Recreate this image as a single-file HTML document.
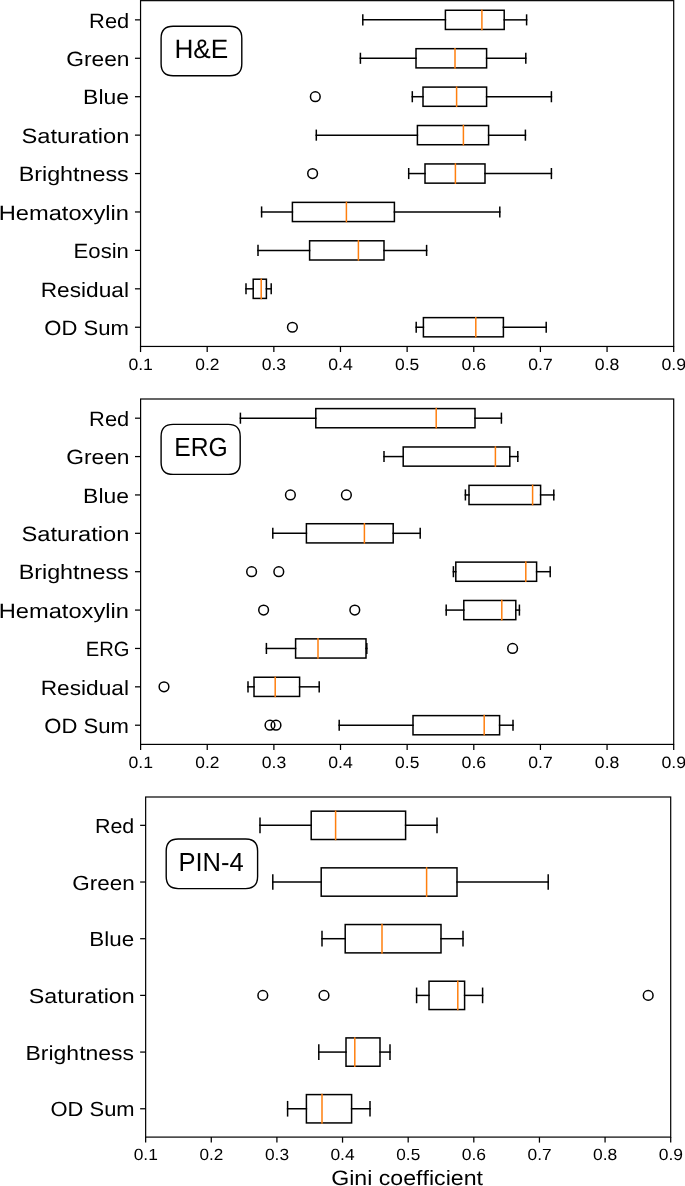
<!DOCTYPE html>
<html><head><meta charset="utf-8"><style>
html,body{margin:0;padding:0;background:#fff;}
body{width:685px;height:1186px;overflow:hidden;}
svg{display:block;will-change:transform;}
text{font-family:"Liberation Sans",sans-serif;fill:#000;font-kerning:none;text-rendering:geometricPrecision;}
</style></head><body>
<svg width="685" height="1186" viewBox="0 0 685 1186">
<rect width="685" height="1186" fill="#fff"/>
<g fill="none" stroke="#000" stroke-width="1.5" stroke-linecap="square"><line x1="362.80" y1="19.86" x2="445.40" y2="19.86"/><line x1="504.20" y1="19.86" x2="526.60" y2="19.86"/><line x1="362.80" y1="15.06" x2="362.80" y2="24.66"/><line x1="526.60" y1="15.06" x2="526.60" y2="24.66"/><rect x="445.40" y="10.26" width="58.80" height="19.21"/><line x1="481.90" y1="10.26" x2="481.90" y2="29.47" stroke="#ff7f0e"/><line x1="360.40" y1="58.28" x2="416.00" y2="58.28"/><line x1="486.60" y1="58.28" x2="525.80" y2="58.28"/><line x1="360.40" y1="53.48" x2="360.40" y2="63.09"/><line x1="525.80" y1="53.48" x2="525.80" y2="63.09"/><rect x="416.00" y="48.68" width="70.60" height="19.21"/><line x1="455.00" y1="48.68" x2="455.00" y2="67.89" stroke="#ff7f0e"/><line x1="412.30" y1="96.71" x2="423.00" y2="96.71"/><line x1="486.60" y1="96.71" x2="551.40" y2="96.71"/><line x1="412.30" y1="91.90" x2="412.30" y2="101.51"/><line x1="551.40" y1="91.90" x2="551.40" y2="101.51"/><rect x="423.00" y="87.10" width="63.60" height="19.21"/><line x1="456.60" y1="87.10" x2="456.60" y2="106.31" stroke="#ff7f0e"/><circle cx="315.30" cy="96.71" r="4.85" stroke-width="1.5" stroke-linecap="butt"/><line x1="316.30" y1="135.13" x2="417.40" y2="135.13"/><line x1="488.60" y1="135.13" x2="525.40" y2="135.13"/><line x1="316.30" y1="130.33" x2="316.30" y2="139.93"/><line x1="525.40" y1="130.33" x2="525.40" y2="139.93"/><rect x="417.40" y="125.52" width="71.20" height="19.21"/><line x1="463.40" y1="125.52" x2="463.40" y2="144.73" stroke="#ff7f0e"/><line x1="408.70" y1="173.55" x2="425.00" y2="173.55"/><line x1="485.00" y1="173.55" x2="551.40" y2="173.55"/><line x1="408.70" y1="168.75" x2="408.70" y2="178.35"/><line x1="551.40" y1="168.75" x2="551.40" y2="178.35"/><rect x="425.00" y="163.94" width="60.00" height="19.21"/><line x1="455.40" y1="163.94" x2="455.40" y2="183.16" stroke="#ff7f0e"/><circle cx="312.60" cy="173.55" r="4.85" stroke-width="1.5" stroke-linecap="butt"/><line x1="261.60" y1="211.97" x2="292.40" y2="211.97"/><line x1="394.40" y1="211.97" x2="499.80" y2="211.97"/><line x1="261.60" y1="207.17" x2="261.60" y2="216.78"/><line x1="499.80" y1="207.17" x2="499.80" y2="216.78"/><rect x="292.40" y="202.37" width="102.00" height="19.21"/><line x1="346.40" y1="202.37" x2="346.40" y2="221.58" stroke="#ff7f0e"/><line x1="258.00" y1="250.39" x2="309.60" y2="250.39"/><line x1="384.00" y1="250.39" x2="426.60" y2="250.39"/><line x1="258.00" y1="245.59" x2="258.00" y2="255.20"/><line x1="426.60" y1="245.59" x2="426.60" y2="255.20"/><rect x="309.60" y="240.79" width="74.40" height="19.21"/><line x1="358.40" y1="240.79" x2="358.40" y2="260.00" stroke="#ff7f0e"/><line x1="246.00" y1="288.82" x2="253.20" y2="288.82"/><line x1="266.40" y1="288.82" x2="271.20" y2="288.82"/><line x1="246.00" y1="284.01" x2="246.00" y2="293.62"/><line x1="271.20" y1="284.01" x2="271.20" y2="293.62"/><rect x="253.20" y="279.21" width="13.20" height="19.21"/><line x1="261.20" y1="279.21" x2="261.20" y2="298.42" stroke="#ff7f0e"/><line x1="416.20" y1="327.24" x2="423.40" y2="327.24"/><line x1="503.40" y1="327.24" x2="546.20" y2="327.24"/><line x1="416.20" y1="322.44" x2="416.20" y2="332.04"/><line x1="546.20" y1="322.44" x2="546.20" y2="332.04"/><rect x="423.40" y="317.63" width="80.00" height="19.21"/><line x1="475.80" y1="317.63" x2="475.80" y2="336.84" stroke="#ff7f0e"/><circle cx="292.40" cy="327.24" r="4.85" stroke-width="1.5" stroke-linecap="butt"/></g><path d="M173.10,26.20 L229.80,26.20 Q241.80,26.20 241.80,38.20 L241.80,63.80 Q241.80,75.80 229.80,75.80 L173.10,75.80 Q161.10,75.80 161.10,63.80 L161.10,38.20 Q161.10,26.20 173.10,26.20 Z" fill="#fff" stroke="#000" stroke-width="1.4"/><text transform="translate(174.45,58.30) scale(0.9851,1)" font-size="26.60">H&amp;E</text><g stroke="#000" stroke-width="1.25"><line x1="140.55" y1="346.45" x2="140.55" y2="352.05"/><line x1="207.19" y1="346.45" x2="207.19" y2="352.05"/><line x1="273.84" y1="346.45" x2="273.84" y2="352.05"/><line x1="340.48" y1="346.45" x2="340.48" y2="352.05"/><line x1="407.13" y1="346.45" x2="407.13" y2="352.05"/><line x1="473.77" y1="346.45" x2="473.77" y2="352.05"/><line x1="540.41" y1="346.45" x2="540.41" y2="352.05"/><line x1="607.06" y1="346.45" x2="607.06" y2="352.05"/><line x1="673.70" y1="346.45" x2="673.70" y2="352.05"/><line x1="134.95" y1="19.86" x2="140.55" y2="19.86"/><line x1="134.95" y1="58.28" x2="140.55" y2="58.28"/><line x1="134.95" y1="96.71" x2="140.55" y2="96.71"/><line x1="134.95" y1="135.13" x2="140.55" y2="135.13"/><line x1="134.95" y1="173.55" x2="140.55" y2="173.55"/><line x1="134.95" y1="211.97" x2="140.55" y2="211.97"/><line x1="134.95" y1="250.39" x2="140.55" y2="250.39"/><line x1="134.95" y1="288.82" x2="140.55" y2="288.82"/><line x1="134.95" y1="327.24" x2="140.55" y2="327.24"/></g><rect x="140.55" y="0.65" width="533.15" height="345.80" fill="none" stroke="#000" stroke-width="1.2"/><text transform="translate(89.11,27.56) scale(1.0591,1)" font-size="20.64">Red</text><text transform="translate(66.26,65.98) scale(1.1021,1)" font-size="20.64">Green</text><text transform="translate(83.12,104.41) scale(1.1111,1)" font-size="20.64">Blue</text><text transform="translate(21.52,142.83) scale(1.1480,1)" font-size="20.64">Saturation</text><text transform="translate(18.69,181.25) scale(1.1296,1)" font-size="20.64">Brightness</text><text transform="translate(-1.34,219.67) scale(1.1481,1)" font-size="20.64">Hematoxylin</text><text transform="translate(73.58,258.09) scale(1.0721,1)" font-size="20.64">Eosin</text><text transform="translate(40.74,296.52) scale(1.0992,1)" font-size="20.64">Residual</text><text transform="translate(44.35,334.94) scale(1.0691,1)" font-size="20.64">OD Sum</text><text transform="translate(128.41,369.65) scale(1.0753,1)" font-size="16.42">0.1</text><text transform="translate(195.23,369.65) scale(1.0606,1)" font-size="16.42">0.2</text><text transform="translate(261.72,369.65) scale(1.0699,1)" font-size="16.42">0.3</text><text transform="translate(328.17,369.65) scale(1.0751,1)" font-size="16.42">0.4</text><text transform="translate(395.06,369.65) scale(1.0632,1)" font-size="16.42">0.5</text><text transform="translate(461.51,369.65) scale(1.0820,1)" font-size="16.42">0.6</text><text transform="translate(528.33,369.65) scale(1.0714,1)" font-size="16.42">0.7</text><text transform="translate(594.84,369.65) scale(1.0779,1)" font-size="16.42">0.8</text><text transform="translate(661.50,369.65) scale(1.0797,1)" font-size="16.42">0.9</text><g fill="none" stroke="#000" stroke-width="1.5" stroke-linecap="square"><line x1="240.40" y1="418.19" x2="315.80" y2="418.19"/><line x1="475.00" y1="418.19" x2="501.40" y2="418.19"/><line x1="240.40" y1="413.39" x2="240.40" y2="422.99"/><line x1="501.40" y1="413.39" x2="501.40" y2="422.99"/><rect x="315.80" y="408.59" width="159.20" height="19.19"/><line x1="436.20" y1="408.59" x2="436.20" y2="427.78" stroke="#ff7f0e"/><line x1="384.00" y1="456.57" x2="403.20" y2="456.57"/><line x1="509.80" y1="456.57" x2="517.80" y2="456.57"/><line x1="384.00" y1="451.77" x2="384.00" y2="461.36"/><line x1="517.80" y1="451.77" x2="517.80" y2="461.36"/><rect x="403.20" y="446.97" width="106.60" height="19.19"/><line x1="495.40" y1="446.97" x2="495.40" y2="466.16" stroke="#ff7f0e"/><line x1="465.40" y1="494.94" x2="469.00" y2="494.94"/><line x1="540.60" y1="494.94" x2="553.80" y2="494.94"/><line x1="465.40" y1="490.15" x2="465.40" y2="499.74"/><line x1="553.80" y1="490.15" x2="553.80" y2="499.74"/><rect x="469.00" y="485.35" width="71.60" height="19.19"/><line x1="532.60" y1="485.35" x2="532.60" y2="504.54" stroke="#ff7f0e"/><circle cx="290.40" cy="494.94" r="4.85" stroke-width="1.5" stroke-linecap="butt"/><circle cx="346.40" cy="494.94" r="4.85" stroke-width="1.5" stroke-linecap="butt"/><line x1="272.80" y1="533.32" x2="306.40" y2="533.32"/><line x1="393.20" y1="533.32" x2="420.20" y2="533.32"/><line x1="272.80" y1="528.52" x2="272.80" y2="538.12"/><line x1="420.20" y1="528.52" x2="420.20" y2="538.12"/><rect x="306.40" y="523.73" width="86.80" height="19.19"/><line x1="364.40" y1="523.73" x2="364.40" y2="542.92" stroke="#ff7f0e"/><line x1="453.40" y1="571.70" x2="455.80" y2="571.70"/><line x1="536.60" y1="571.70" x2="550.20" y2="571.70"/><line x1="453.40" y1="566.90" x2="453.40" y2="576.50"/><line x1="550.20" y1="566.90" x2="550.20" y2="576.50"/><rect x="455.80" y="562.11" width="80.80" height="19.19"/><line x1="525.80" y1="562.11" x2="525.80" y2="581.29" stroke="#ff7f0e"/><circle cx="251.60" cy="571.70" r="4.85" stroke-width="1.5" stroke-linecap="butt"/><circle cx="278.80" cy="571.70" r="4.85" stroke-width="1.5" stroke-linecap="butt"/><line x1="446.20" y1="610.08" x2="463.80" y2="610.08"/><line x1="515.80" y1="610.08" x2="519.40" y2="610.08"/><line x1="446.20" y1="605.28" x2="446.20" y2="614.88"/><line x1="519.40" y1="605.28" x2="519.40" y2="614.88"/><rect x="463.80" y="600.48" width="52.00" height="19.19"/><line x1="501.80" y1="600.48" x2="501.80" y2="619.67" stroke="#ff7f0e"/><circle cx="263.60" cy="610.08" r="4.85" stroke-width="1.5" stroke-linecap="butt"/><circle cx="354.80" cy="610.08" r="4.85" stroke-width="1.5" stroke-linecap="butt"/><line x1="266.40" y1="648.46" x2="295.60" y2="648.46"/><line x1="366.00" y1="648.46" x2="366.80" y2="648.46"/><line x1="266.40" y1="643.66" x2="266.40" y2="653.25"/><line x1="366.80" y1="643.66" x2="366.80" y2="653.25"/><rect x="295.60" y="638.86" width="70.40" height="19.19"/><line x1="318.00" y1="638.86" x2="318.00" y2="658.05" stroke="#ff7f0e"/><circle cx="512.60" cy="648.46" r="4.85" stroke-width="1.5" stroke-linecap="butt"/><line x1="248.00" y1="686.83" x2="254.00" y2="686.83"/><line x1="299.60" y1="686.83" x2="319.20" y2="686.83"/><line x1="248.00" y1="682.04" x2="248.00" y2="691.63"/><line x1="319.20" y1="682.04" x2="319.20" y2="691.63"/><rect x="254.00" y="677.24" width="45.60" height="19.19"/><line x1="275.20" y1="677.24" x2="275.20" y2="696.43" stroke="#ff7f0e"/><circle cx="164.00" cy="686.83" r="4.85" stroke-width="1.5" stroke-linecap="butt"/><line x1="339.20" y1="725.21" x2="413.00" y2="725.21"/><line x1="499.60" y1="725.21" x2="513.00" y2="725.21"/><line x1="339.20" y1="720.41" x2="339.20" y2="730.01"/><line x1="513.00" y1="720.41" x2="513.00" y2="730.01"/><rect x="413.00" y="715.62" width="86.60" height="19.19"/><line x1="484.20" y1="715.62" x2="484.20" y2="734.81" stroke="#ff7f0e"/><circle cx="270.00" cy="725.21" r="4.85" stroke-width="1.5" stroke-linecap="butt"/><circle cx="276.00" cy="725.21" r="4.85" stroke-width="1.5" stroke-linecap="butt"/></g><path d="M173.10,424.40 L228.20,424.40 Q240.20,424.40 240.20,436.40 L240.20,462.40 Q240.20,474.40 228.20,474.40 L173.10,474.40 Q161.10,474.40 161.10,462.40 L161.10,436.40 Q161.10,424.40 173.10,424.40 Z" fill="#fff" stroke="#000" stroke-width="1.4"/><text transform="translate(174.18,456.30) scale(0.9431,1)" font-size="26.16">ERG</text><g stroke="#000" stroke-width="1.25"><line x1="140.60" y1="744.40" x2="140.60" y2="750.00"/><line x1="207.24" y1="744.40" x2="207.24" y2="750.00"/><line x1="273.88" y1="744.40" x2="273.88" y2="750.00"/><line x1="340.51" y1="744.40" x2="340.51" y2="750.00"/><line x1="407.15" y1="744.40" x2="407.15" y2="750.00"/><line x1="473.79" y1="744.40" x2="473.79" y2="750.00"/><line x1="540.43" y1="744.40" x2="540.43" y2="750.00"/><line x1="607.06" y1="744.40" x2="607.06" y2="750.00"/><line x1="673.70" y1="744.40" x2="673.70" y2="750.00"/><line x1="135.00" y1="418.19" x2="140.60" y2="418.19"/><line x1="135.00" y1="456.57" x2="140.60" y2="456.57"/><line x1="135.00" y1="494.94" x2="140.60" y2="494.94"/><line x1="135.00" y1="533.32" x2="140.60" y2="533.32"/><line x1="135.00" y1="571.70" x2="140.60" y2="571.70"/><line x1="135.00" y1="610.08" x2="140.60" y2="610.08"/><line x1="135.00" y1="648.46" x2="140.60" y2="648.46"/><line x1="135.00" y1="686.83" x2="140.60" y2="686.83"/><line x1="135.00" y1="725.21" x2="140.60" y2="725.21"/></g><rect x="140.60" y="399.00" width="533.10" height="345.40" fill="none" stroke="#000" stroke-width="1.2"/><text transform="translate(89.11,425.89) scale(1.0591,1)" font-size="20.64">Red</text><text transform="translate(66.26,464.27) scale(1.1021,1)" font-size="20.64">Green</text><text transform="translate(83.12,502.64) scale(1.1111,1)" font-size="20.64">Blue</text><text transform="translate(21.52,541.02) scale(1.1480,1)" font-size="20.64">Saturation</text><text transform="translate(18.69,579.40) scale(1.1296,1)" font-size="20.64">Brightness</text><text transform="translate(-1.34,617.78) scale(1.1481,1)" font-size="20.64">Hematoxylin</text><text transform="translate(85.74,656.16) scale(0.9785,1)" font-size="20.64">ERG</text><text transform="translate(40.74,694.53) scale(1.0992,1)" font-size="20.64">Residual</text><text transform="translate(44.35,732.91) scale(1.0691,1)" font-size="20.64">OD Sum</text><text transform="translate(128.46,767.60) scale(1.0753,1)" font-size="16.42">0.1</text><text transform="translate(195.28,767.60) scale(1.0606,1)" font-size="16.42">0.2</text><text transform="translate(261.75,767.60) scale(1.0699,1)" font-size="16.42">0.3</text><text transform="translate(328.20,767.60) scale(1.0751,1)" font-size="16.42">0.4</text><text transform="translate(395.09,767.60) scale(1.0632,1)" font-size="16.42">0.5</text><text transform="translate(461.53,767.60) scale(1.0820,1)" font-size="16.42">0.6</text><text transform="translate(528.34,767.60) scale(1.0714,1)" font-size="16.42">0.7</text><text transform="translate(594.85,767.60) scale(1.0779,1)" font-size="16.42">0.8</text><text transform="translate(661.50,767.60) scale(1.0797,1)" font-size="16.42">0.9</text><g fill="none" stroke="#000" stroke-width="1.5" stroke-linecap="square"><line x1="260.00" y1="825.34" x2="311.20" y2="825.34"/><line x1="405.60" y1="825.34" x2="437.00" y2="825.34"/><line x1="260.00" y1="818.26" x2="260.00" y2="832.43"/><line x1="437.00" y1="818.26" x2="437.00" y2="832.43"/><rect x="311.20" y="811.17" width="94.40" height="28.34"/><line x1="335.60" y1="811.17" x2="335.60" y2="839.51" stroke="#ff7f0e"/><line x1="272.80" y1="882.02" x2="321.20" y2="882.02"/><line x1="457.00" y1="882.02" x2="548.20" y2="882.02"/><line x1="272.80" y1="874.94" x2="272.80" y2="889.11"/><line x1="548.20" y1="874.94" x2="548.20" y2="889.11"/><rect x="321.20" y="867.85" width="135.80" height="28.34"/><line x1="426.60" y1="867.85" x2="426.60" y2="896.20" stroke="#ff7f0e"/><line x1="322.00" y1="938.71" x2="345.20" y2="938.71"/><line x1="441.00" y1="938.71" x2="463.00" y2="938.71"/><line x1="322.00" y1="931.62" x2="322.00" y2="945.79"/><line x1="463.00" y1="931.62" x2="463.00" y2="945.79"/><rect x="345.20" y="924.54" width="95.80" height="28.34"/><line x1="382.00" y1="924.54" x2="382.00" y2="952.88" stroke="#ff7f0e"/><line x1="416.60" y1="995.39" x2="429.00" y2="995.39"/><line x1="464.60" y1="995.39" x2="482.60" y2="995.39"/><line x1="416.60" y1="988.31" x2="416.60" y2="1002.48"/><line x1="482.60" y1="988.31" x2="482.60" y2="1002.48"/><rect x="429.00" y="981.22" width="35.60" height="28.34"/><line x1="457.80" y1="981.22" x2="457.80" y2="1009.56" stroke="#ff7f0e"/><circle cx="262.80" cy="995.39" r="4.85" stroke-width="1.5" stroke-linecap="butt"/><circle cx="324.00" cy="995.39" r="4.85" stroke-width="1.5" stroke-linecap="butt"/><circle cx="648.20" cy="995.39" r="4.85" stroke-width="1.5" stroke-linecap="butt"/><line x1="318.80" y1="1052.07" x2="346.00" y2="1052.07"/><line x1="380.00" y1="1052.07" x2="390.00" y2="1052.07"/><line x1="318.80" y1="1044.99" x2="318.80" y2="1059.16"/><line x1="390.00" y1="1044.99" x2="390.00" y2="1059.16"/><rect x="346.00" y="1037.90" width="34.00" height="28.34"/><line x1="354.80" y1="1037.90" x2="354.80" y2="1066.25" stroke="#ff7f0e"/><line x1="287.60" y1="1108.76" x2="306.40" y2="1108.76"/><line x1="351.60" y1="1108.76" x2="370.00" y2="1108.76"/><line x1="287.60" y1="1101.67" x2="287.60" y2="1115.84"/><line x1="370.00" y1="1101.67" x2="370.00" y2="1115.84"/><rect x="306.40" y="1094.59" width="45.20" height="28.34"/><line x1="322.00" y1="1094.59" x2="322.00" y2="1122.93" stroke="#ff7f0e"/></g><path d="M178.20,839.00 L245.60,839.00 Q257.60,839.00 257.60,851.00 L257.60,876.60 Q257.60,888.60 245.60,888.60 L178.20,888.60 Q166.20,888.60 166.20,876.60 L166.20,851.00 Q166.20,839.00 178.20,839.00 Z" fill="#fff" stroke="#000" stroke-width="1.4"/><text transform="translate(178.51,871.40) scale(0.9810,1)" font-size="26.02">PIN-4</text><g stroke="#000" stroke-width="1.25"><line x1="145.65" y1="1137.10" x2="145.65" y2="1142.62"/><line x1="211.28" y1="1137.10" x2="211.28" y2="1142.62"/><line x1="276.91" y1="1137.10" x2="276.91" y2="1142.62"/><line x1="342.54" y1="1137.10" x2="342.54" y2="1142.62"/><line x1="408.18" y1="1137.10" x2="408.18" y2="1142.62"/><line x1="473.81" y1="1137.10" x2="473.81" y2="1142.62"/><line x1="539.44" y1="1137.10" x2="539.44" y2="1142.62"/><line x1="605.07" y1="1137.10" x2="605.07" y2="1142.62"/><line x1="670.70" y1="1137.10" x2="670.70" y2="1142.62"/><line x1="140.13" y1="825.34" x2="145.65" y2="825.34"/><line x1="140.13" y1="882.02" x2="145.65" y2="882.02"/><line x1="140.13" y1="938.71" x2="145.65" y2="938.71"/><line x1="140.13" y1="995.39" x2="145.65" y2="995.39"/><line x1="140.13" y1="1052.07" x2="145.65" y2="1052.07"/><line x1="140.13" y1="1108.76" x2="145.65" y2="1108.76"/></g><rect x="145.65" y="797.00" width="525.05" height="340.10" fill="none" stroke="#000" stroke-width="1.2"/><text transform="translate(94.94,832.93) scale(1.0549,1)" font-size="20.33">Red</text><text transform="translate(72.27,889.61) scale(1.1041,1)" font-size="20.33">Green</text><text transform="translate(89.36,946.29) scale(1.1018,1)" font-size="20.33">Blue</text><text transform="translate(28.74,1002.98) scale(1.1434,1)" font-size="20.33">Saturation</text><text transform="translate(25.52,1059.66) scale(1.1297,1)" font-size="20.33">Brightness</text><text transform="translate(50.56,1116.34) scale(1.0788,1)" font-size="20.33">OD Sum</text><text transform="translate(133.69,1160.30) scale(1.0753,1)" font-size="16.18">0.1</text><text transform="translate(199.50,1160.30) scale(1.0606,1)" font-size="16.18">0.2</text><text transform="translate(264.97,1160.30) scale(1.0699,1)" font-size="16.18">0.3</text><text transform="translate(330.42,1160.30) scale(1.0751,1)" font-size="16.18">0.4</text><text transform="translate(396.29,1160.30) scale(1.0632,1)" font-size="16.18">0.5</text><text transform="translate(461.73,1160.30) scale(1.0820,1)" font-size="16.18">0.6</text><text transform="translate(527.54,1160.30) scale(1.0714,1)" font-size="16.18">0.7</text><text transform="translate(593.04,1160.30) scale(1.0779,1)" font-size="16.18">0.8</text><text transform="translate(658.68,1160.30) scale(1.0797,1)" font-size="16.18">0.9</text><text transform="translate(331.24,1184.90) scale(1.1130,1)" font-size="20.79">Gini coefficient</text>
</svg>
</body></html>
